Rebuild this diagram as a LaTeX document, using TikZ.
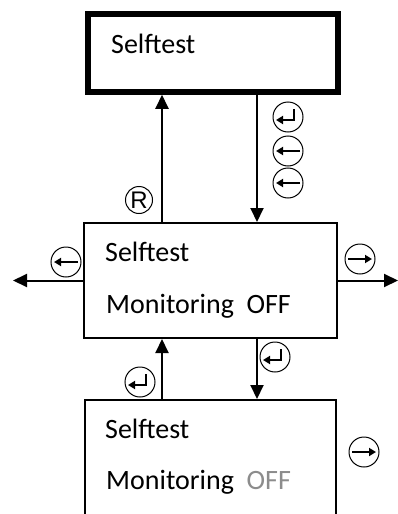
\documentclass[tikz,border=0pt]{standalone}
\usepackage{fontspec}
\setmainfont{Carlito}
\newfontfamily\keyfont{Liberation Sans}
\usepackage{tikz}
\usetikzlibrary{arrows.meta}
\usetikzlibrary{positioning}

\begin{document}
\begin{tikzpicture}[x=1pt, y=-1pt,
                font=\fontsize{28}{34}\selectfont,
                screen/.style={rectangle, draw, line width=2pt, minimum width=252pt, minimum height=115pt, inner sep=0pt},
                line/.style={anchor=base west, inner sep=0pt},
                arrow/.style={draw, line width=2pt, -{Triangle[length=14pt, width=13pt]}},
                key/.style={circle, draw, line width=1pt, minimum size=30pt, inner sep=0pt},
                keyline/.style={line width=2.6pt, -{Triangle[length=7pt, width=8pt]}},
                keyleft/.style={key, path picture={
                    \draw[keyline] ([xshift=12pt]path picture bounding box.center) -- ([xshift=-12pt]path picture bounding box.center);}},
                keyright/.style={key, path picture={
                    \draw[keyline] ([xshift=-12pt]path picture bounding box.center) -- ([xshift=12pt]path picture bounding box.center);}},
                keyenter/.style={key, path picture={
                    \draw[keyline] ([xshift=6pt, yshift=8pt]path picture bounding box.center) |- ([xshift=-12pt, yshift=-3pt]path picture bounding box.center);}},
            ]
            \useasboundingbox (0,0) rectangle (398,514);
            \clip (0,0) rectangle (398,514);
            % screens
            \node[screen, line width=5.5pt, minimum width=250pt, minimum height=78pt](top) at (213,53) {};
            \node[screen, minimum width=253pt](mid) at (210.5,280.5) {};
            \node[screen, minimum width=251pt, minimum height=130pt](bot) at (210.5,465) {};
            \node[line](topl1) at (111,53) {Selftest};
            \node[line](midl1) at (105,261) {Selftest};
            \node[line](midl2) at (106,313) {Monitoring\ \ OFF};
            \node[line](botl1) at (105,438) {Selftest};
            \node[line](botl2) at (106,489) {Monitoring\ \ \textcolor[gray]{0.55}{OFF}};
            % arrows
            \coordinate (upx) at (162,0);
            \coordinate (dnx) at (257,0);
            \coordinate (leftend) at (13,280.5);
            \coordinate (rightend) at (398,280.5);
            \path[arrow] (mid.north -| upx) -- (top.south -| upx);
            \path[arrow] (top.south -| dnx) -- (mid.north -| dnx);
            \path[arrow] (mid.west) -- (leftend);
            \path[arrow] (mid.east) -- (rightend);
            \path[arrow] (bot.north -| upx) -- (mid.south -| upx);
            \path[arrow] (mid.south -| dnx) -- (bot.north -| dnx);
            % keys
            \node[key, minimum size=27pt, font=\keyfont\fontsize{24}{24}\selectfont](kreset) at (139,200) {R};
            \node[keyenter](kenter1) at (288,117) {};
            \node[keyleft](kleft1) at (288,151) {};
            \node[keyleft](kleft2) at (288,183) {};
            \node[keyleft](kleft3) at (66,262) {};
            \node[keyright](kright1) at (360,259) {};
            \node[keyenter](kenter2) at (140,382) {};
            \node[keyenter](kenter3) at (275,357) {};
            \node[keyright](kright2) at (364,452) {};
\end{tikzpicture}
\end{document}
